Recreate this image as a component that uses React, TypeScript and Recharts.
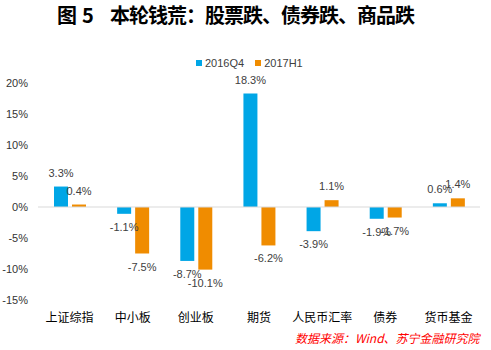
import { BarChart, Bar, XAxis, YAxis, ReferenceLine, LabelList } from 'recharts';

const categories = ['上证综指', '中小板', '创业板', '期货', '人民币汇率', '债券', '货币基金'];
const q4_2016 = [3.3, -1.1, -8.7, 18.3, -3.9, -1.9, 0.6];
const h1_2017 = [0.4, -7.5, -10.1, -6.2, 1.1, -1.7, 1.4];
const yTicks = [-15, -10, -5, 0, 5, 10, 15, 20];
const seriesNames = ['2016Q4', '2017H1'];
const seriesColors = ['#00A6E6', '#F08C00'];

const data = categories.map((name, i) => ({ name, q4: q4_2016[i], h1: h1_2017[i] }));

const FONT = '"Liberation Sans", "Noto Sans CJK SC", sans-serif';
const CJK = '"Noto Sans CJK SC", sans-serif';

const renderLabel = (props: any) => {
  const { x, y, width, height, value } = props;
  const top = Math.min(y, y + height);
  const bottom = Math.max(y, y + height);
  const ty = value >= 0 ? top - 10 : bottom + 17;
  return (
    <text x={x + width / 2} y={ty} textAnchor="middle" fontSize={11} fill="#404040" fontFamily={FONT}>
      {`${value.toFixed(1)}%`}
    </text>
  );
};

const titleStyle = {
  position: 'absolute' as const,
  top: 2,
  fontSize: 20,
  fontWeight: 700,
  fontFamily: CJK,
  color: '#000',
  lineHeight: '26px',
  letterSpacing: -1,
  whiteSpace: 'pre' as const,
};

export default function App() {
  return (
    <div style={{ position: 'absolute', left: 0, top: 0, width: 491, height: 350, background: '#fff', fontFamily: FONT }}>
      <div style={{ ...titleStyle, left: 57 }}>图</div>
      <div style={{ ...titleStyle, left: 82 }}>5</div>
      <div style={{ ...titleStyle, left: 110 }}>本轮钱荒：股票跌、债券跌、商品跌</div>

      <div style={{ position: 'absolute', left: 196, top: 55, display: 'flex', alignItems: 'center', fontSize: 11, color: '#404040', lineHeight: '16px' }}>
        {seriesNames.map((n, i) => (
          <div key={n} style={{ display: 'flex', alignItems: 'center', marginRight: 11 }}>
            <span style={{ display: 'inline-block', width: 6, height: 6, background: seriesColors[i], marginRight: 3 }} />
            <span>{n}</span>
          </div>
        ))}
      </div>

      <BarChart
        width={491}
        height={350}
        data={data}
        margin={{ top: 83, right: 11, bottom: 20, left: 0 }}
        barSize={14}
        barGap={4}
      >
        <XAxis
          dataKey="name"
          axisLine={false}
          tickLine={false}
          interval={0}
          height={30}
          tickMargin={7}
          tick={{ fontSize: 12, fill: '#000', fontFamily: CJK }}
        />
        <YAxis
          domain={[-15, 20]}
          ticks={yTicks}
          width={38}
          axisLine={false}
          tickLine={false}
          tickMargin={4}
          tickFormatter={(v: number) => `${v}%`}
          tick={{ fontSize: 11, fill: '#333', fontFamily: FONT }}
        />
        <ReferenceLine y={0} stroke="#d9d9d9" strokeWidth={1} />
        <Bar dataKey="q4" name={seriesNames[0]} fill={seriesColors[0]} isAnimationActive={false}>
          <LabelList dataKey="q4" content={renderLabel} />
        </Bar>
        <Bar dataKey="h1" name={seriesNames[1]} fill={seriesColors[1]} isAnimationActive={false}>
          <LabelList dataKey="h1" content={renderLabel} />
        </Bar>
      </BarChart>

      <div
        style={{
          position: 'absolute',
          left: 295,
          top: 330,
          fontSize: 12,
          fontStyle: 'italic',
          color: '#ff0000',
          whiteSpace: 'pre',
          lineHeight: '16px',
          fontFamily: CJK,
        }}
      >
        数据来源：Wind、苏宁金融研究院
      </div>
    </div>
  );
}
